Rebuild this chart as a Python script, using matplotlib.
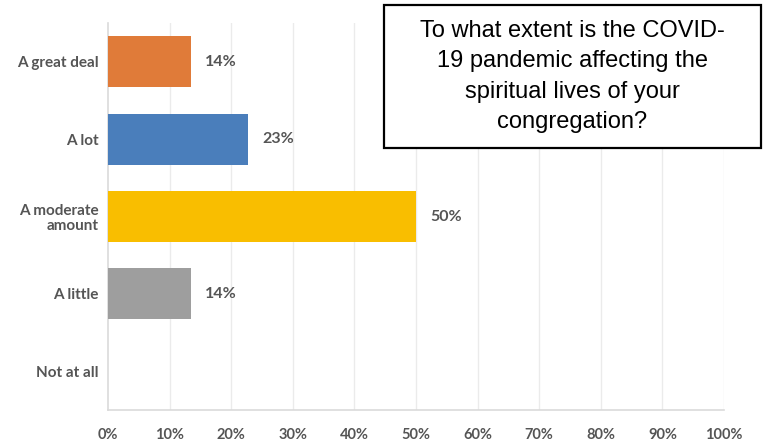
import matplotlib.pyplot as plt
from matplotlib.patches import Rectangle

# survey answers, top to bottom
answers = ['A great deal', 'A lot', 'A moderate\namount', 'A little', 'Not at all']
shares = [13.5, 22.7, 50.0, 13.5, 0.0]
share_labels = ['14%', '23%', '50%', '14%', '']
bar_colors = ['#E07B39', '#4A7EBB', '#F9BE00', '#9E9E9E', '#9E9E9E']
x_ticks = list(range(0, 101, 10))
question = ('To what extent is the COVID-\n19 pandemic affecting the\n'
            'spiritual lives of your\ncongregation?')

label_color = '#555555'
font = dict(fontfamily='Lato', fontweight='bold', color=label_color)

fig = plt.figure(figsize=(7.63, 4.45), dpi=100)
ax = fig.add_axes([0.1415, 0.0787, 0.8075, 0.8693])

pos = list(range(len(answers)))
ax.barh(pos, shares, height=0.66, color=bar_colors, zorder=3)

for y, v, txt in zip(pos, shares, share_labels):
    if txt:
        ax.text(v + 2.3, y, txt, va='center', ha='left', fontsize=11.5, **font)

ax.set_xlim(0, 100)
ax.set_ylim(len(answers) - 0.5, -0.5)
ax.set_yticks(pos)
ax.set_yticklabels(answers, fontsize=11, linespacing=1.05, **font)
ax.set_xticks(x_ticks)
ax.set_xticklabels([f'{t}%' for t in x_ticks], fontsize=10.5, **font)
ax.tick_params(axis='both', length=0)
ax.tick_params(axis='x', pad=13)
ax.tick_params(axis='y', pad=7)

for t in x_ticks[1:]:
    ax.axvline(t, color='#EBEBEB', linewidth=1, zorder=1)

for side in ['top', 'right']:
    ax.spines[side].set_visible(False)
for side in ['left', 'bottom']:
    ax.spines[side].set_color('#DADADA')
    ax.spines[side].set_linewidth(1.2)

# question box in the upper right corner
box_l, box_r = 384 / 763, 761 / 763
box_t, box_b = 1 - 5 / 445, 1 - 148 / 445
fig.patches.append(Rectangle((box_l, box_b), box_r - box_l, box_t - box_b,
                             transform=fig.transFigure, facecolor='white',
                             edgecolor='black', linewidth=1.6, zorder=5))
fig.text((box_l + box_r) / 2, (box_t + box_b) / 2, question,
         ha='center', va='center', fontsize=17, fontfamily='Liberation Sans',
         linespacing=1.48, color='black', zorder=6)

fig.savefig('out.png', dpi=100)
